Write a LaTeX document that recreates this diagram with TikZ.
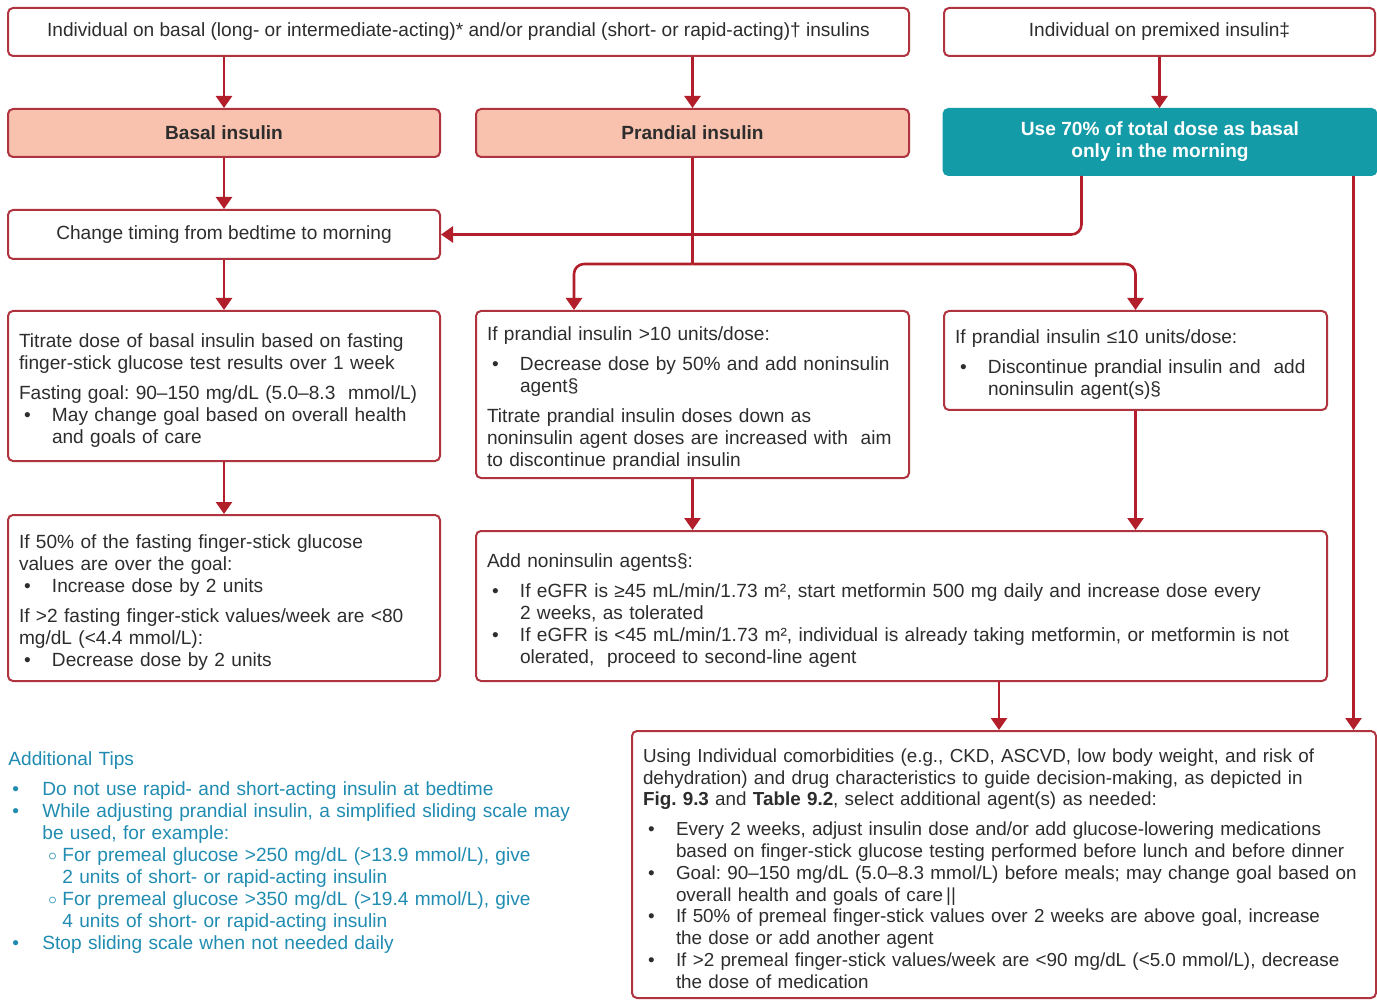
\documentclass[tikz,border=0pt]{standalone}
\usepackage{fontspec}
\setmainfont{Liberation Sans}
\usetikzlibrary{arrows.meta,calc}
\frenchspacing

\definecolor{boxred}{RGB}{176,52,64}
\definecolor{arrowred}{RGB}{178,30,42}
\definecolor{salmon}{RGB}{248,194,174}
\definecolor{tealfill}{RGB}{20,155,168}
\definecolor{tiptext}{RGB}{32,140,178}
\definecolor{bodytext}{RGB}{45,45,45}

% one unbreakable line of box text
\newcommand\tline[1]{\par\noindent\mbox{#1}\par}
% bulleted line and its continuation
\newcommand\bline[1]{\par\noindent\hbox to 16.5pt{\hskip2.5pt\textbullet\hfil}\mbox{#1}\par}
\newcommand\contline[1]{\par\noindent\hskip16.5pt\mbox{#1}\par}
\newcommand\gapline{\vspace{4pt}}
% lines of the tips list
\newcommand\tipb[1]{\par\noindent\hbox to 17pt{\hskip2pt\textbullet\hfil}\mbox{#1}\par}
\newcommand\tipc[1]{\par\noindent\hskip17pt\mbox{#1}\par}
\newcommand\tipsub[1]{\par\noindent\hskip20pt\hbox to 7pt{\raisebox{0.6pt}{\footnotesize$\circ$}\hfil}\mbox{#1}\par}
\newcommand\tipsubc[1]{\par\noindent\hskip27pt\mbox{#1}\par}

\begin{document}
\begin{tikzpicture}[x=0.5pt,y=-0.5pt,
  basefont/.style={font=\fontsize{9.55}{11}\selectfont},
  box/.style={draw=boxred, line width=1pt, rounded corners=2.5pt, fill=white,
    text=bodytext, basefont, inner xsep=5.5pt, inner ysep=0pt},
  textbox/.style={box, text width=#1, align=left},
  headbox/.style={box, fill=salmon, font=\fontsize{9.55}{11}\selectfont\bfseries},
  arr/.style={draw=arrowred, line width=1.3pt, -{Triangle[width=8pt,length=6pt]}},
  wire/.style={draw=arrowred, line width=1.3pt}]

\fill[white] (0,0) rectangle (1377,1000);
\useasboundingbox (0,0) rectangle (1377,1000);

% entry points
\node[box, minimum width=450.5pt, minimum height=24pt] (top1) at (458.5,32)
  {Individual on basal (long- or intermediate-acting)* and/or prandial (short- or rapid-acting)\textdagger{} insulins};
\node[box, minimum width=215.5pt, minimum height=24pt] (top2) at (1159.5,32)
  {Individual on premixed insulin\textdaggerdbl};

% insulin types
\node[headbox, minimum width=216pt, minimum height=24pt] (basal) at (224,133) {Basal insulin};
\node[headbox, minimum width=216.5pt, minimum height=24pt] (prand) at (692.5,133) {Prandial insulin};
\node[box, draw=tealfill, fill=tealfill, text=white, align=center,
  font=\fontsize{9.55}{11}\selectfont\bfseries, minimum width=216.5pt, minimum height=33pt]
  (teal) at (1160,142) {Use 70\% of total dose as basal\\only in the morning};

% basal branch
\node[box, minimum width=216pt, minimum height=24.5pt] (change) at (224,234.5)
  {Change timing from bedtime to morning};

\node[textbox=205pt, minimum height=75pt] (titr) at (224,386) {%
  \tline{Titrate dose of basal insulin based on fasting}
  \tline{finger-stick glucose test results over 1 week}
  \gapline
  \tline{Fasting goal: 90–150 mg/dL (5.0–8.3~ mmol/L)}
  \bline{May change goal based on overall health}
  \contline{and goals of care}};

\node[textbox=205pt, minimum height=83pt] (ifhalf) at (224,598) {%
  \tline{If 50\% of the fasting finger-stick glucose}
  \tline{values are over the goal:}
  \bline{Increase dose by 2 units}
  \gapline
  \tline{If >2 fasting finger-stick values/week are <80}
  \tline{mg/dL (<4.4 mmol/L):}
  \bline{Decrease dose by 2 units}};

% prandial branch
\node[textbox=205.5pt, minimum height=83.5pt] (gt10) at (692.5,394.5) {%
  \tline{If prandial insulin >10 units/dose:}
  \gapline
  \bline{Decrease dose by 50\% and add noninsulin}
  \contline{agent§}
  \gapline
  \tline{Titrate prandial insulin doses down as}
  \tline{noninsulin agent doses are increased with~ aim}
  \tline{to discontinue prandial insulin}};

\node[textbox=180.5pt, minimum height=49.5pt] (le10) at (1135.5,360.5) {%
  \tline{If prandial insulin ≤10 units/dose:}
  \gapline
  \bline{Discontinue prandial insulin and~ add}
  \contline{noninsulin agent(s)§}};

\node[textbox=414.5pt, minimum height=75pt] (addni) at (901.5,606) {%
  \tline{Add noninsulin agents§:}
  \gapline
  \bline{If eGFR is ≥45 mL/min/1.73 m², start metformin 500 mg daily and increase dose every}
  \contline{2 weeks, as tolerated}
  \bline{If eGFR is <45 mL/min/1.73 m², individual is already taking metformin, or metformin is not}
  \contline{olerated,~ proceed to second-line agent}};

\node[textbox=361pt, minimum height=133.5pt, font=\fontsize{9.42}{10.9}\selectfont] (using) at (1004,864.5) {%
  \tline{Using Individual comorbidities (e.g., CKD, ASCVD, low body weight, and risk of}
  \tline{dehydration) and drug characteristics to guide decision-making, as depicted in}
  \tline{\textbf{Fig. 9.3} and \textbf{Table 9.2}, select additional agent(s) as needed:}
  \gapline
  \bline{Every 2 weeks, adjust insulin dose and/or add glucose-lowering medications}
  \contline{based on finger-stick glucose testing performed before lunch and before dinner}
  \bline{Goal: 90–150 mg/dL (5.0–8.3 mmol/L) before meals; may change goal based on}
  \contline{overall health and goals of care\,||}
  \bline{If 50\% of premeal finger-stick values over 2 weeks are above goal, increase}
  \contline{the dose or add another agent}
  \bline{If >2 premeal finger-stick values/week are <90 mg/dL (<5.0 mmol/L), decrease}
  \contline{the dose of medication}};

% tips
\node[anchor=north west, inner sep=0pt, text=tiptext, basefont,
  text width=300pt, align=left] (tips) at (8,743) {%
  \tline{Additional Tips}
  \gapline
  \tipb{Do not use rapid- and short-acting insulin at bedtime}
  \tipb{While adjusting prandial insulin, a simplified sliding scale may}
  \tipc{be used, for example:}
  \tipsub{For premeal glucose >250 mg/dL (>13.9 mmol/L), give}
  \tipsubc{2 units of short- or rapid-acting insulin}
  \tipsub{For premeal glucose >350 mg/dL (>19.4 mmol/L), give}
  \tipsubc{4 units of short- or rapid-acting insulin}
  \tipb{Stop sliding scale when not needed daily}};

% connector anchors
\coordinate (split) at ($(prand.south)+(0,106)$);
\coordinate (tealleft) at ($(teal.south west)+(139,0)$);
\coordinate (tealright) at ($(teal.south east)+(-24,0)$);
\coordinate (gt10in) at ($(gt10.north west)+(99,0)$);
\coordinate (addniout) at ($(addni.south west)+(524,0)$);

% connectors
\draw[arr] (top1.south -| basal.north) -- (basal.north);
\draw[arr] (top1.south -| prand.north) -- (prand.north);
\draw[arr] (top2.south) -- (top2.south |- teal.north);
\draw[arr] (basal.south) -- (change.north);
\draw[arr, rounded corners=5pt] (tealleft) |- (change.east);
\draw[wire] (prand.south) -- (split);
\draw[arr, rounded corners=5pt] (split) -| (gt10in);
\draw[arr, rounded corners=5pt] (split) -| (le10.north);
\draw[arr] (change.south) -- (titr.north);
\draw[arr] (titr.south) -- (ifhalf.north);
\draw[arr] (gt10.south) -- (gt10.south |- addni.north);
\draw[arr] (le10.south) -- (le10.south |- addni.north);
\draw[arr] (addniout) -- (addniout |- using.north);
\draw[arr] (tealright) -- (tealright |- using.north);

\end{tikzpicture}
\end{document}
